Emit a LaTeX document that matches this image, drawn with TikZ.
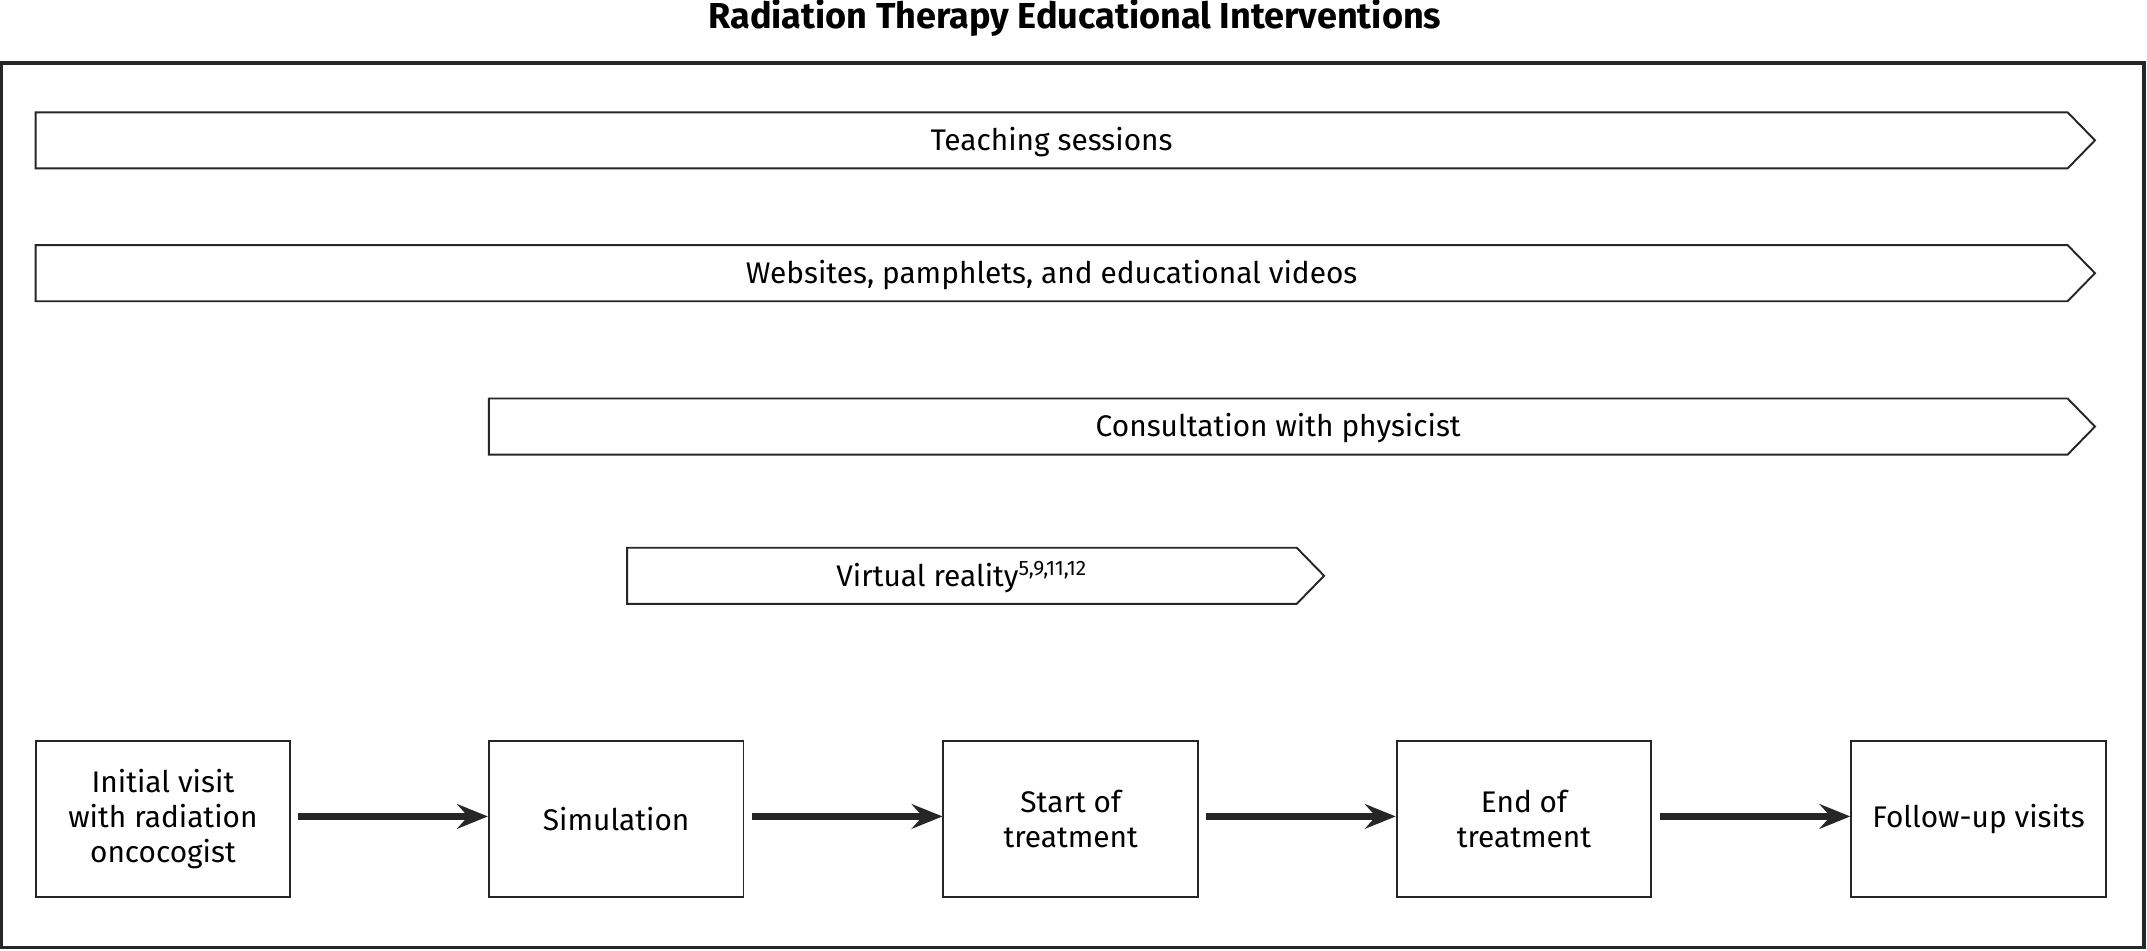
\documentclass[tikz,border=0pt]{standalone}
\usepackage{fontspec}
\setmainfont{Fira Sans}
\usetikzlibrary{arrows.meta}
\colorlet{inkx}{black!85}
\tikzset{
    stage/.style={draw=inkx,thick,minimum width=3.72cm,minimum height=2.28cm,align=center,inner sep=2pt},
    flow/.style={inkx,line width=2.6pt,-{Stealth[length=4.5mm,width=3.6mm,inset=1.6mm]}},
    bar/.style={draw=inkx,thick,fill=white},
    txt/.style={font=\fontsize{12.4}{14.5}\selectfont}
}
\newcommand{\interbar}[5]{% x0, x1, ytop, name, text
    \draw [bar] (#1,#3) -- (#2,#3) -- (#2+20,#3+20.5) -- (#2,#3+41) -- (#1,#3+41) -- cycle;
    \node [txt] (#4) at ({(#1+#2)/2},#3+21.5) {#5};
}
\begin{document}
\begin{tikzpicture}[x=0.02cm,y=-0.02cm,every node/.style={txt}]
    \useasboundingbox (0,0) rectangle (1568,694);
    \node [font=\fontsize{15}{16}\bfseries] (title) at (785,13) {Radiation Therapy Educational Interventions};
    \draw [inkx,line width=1.6pt] (1,46) rectangle (1566,692);
    % intervention bars
    \interbar{26}{1510}{82}{teach}{Teaching sessions}
    \interbar{26}{1510}{179}{web}{Websites, pamphlets, and educational videos}
    \interbar{357}{1510}{291}{phys}{Consultation with physicist}
    \interbar{458}{947}{400}{vr}{Virtual reality\textsuperscript{5,9,11,12}}
    % stages
    \node [stage] (init) at (119,598) {Initial visit\\with radiation\\oncocogist};
    \node [stage] (sim) at (450,598) {Simulation};
    \node [stage] (start) at (782,598) {Start of\\treatment};
    \node [stage] (end) at (1113,598) {End of\\treatment};
    \node [stage] (follow) at (1445,598) {Follow-up visits};
    \foreach \a/\b in {init/sim,sim/start,start/end,end/follow}
        \draw [flow] ([xshift=3pt,yshift=1pt]\a.east) -- ([yshift=1pt]\b.west);
\end{tikzpicture}
\end{document}
